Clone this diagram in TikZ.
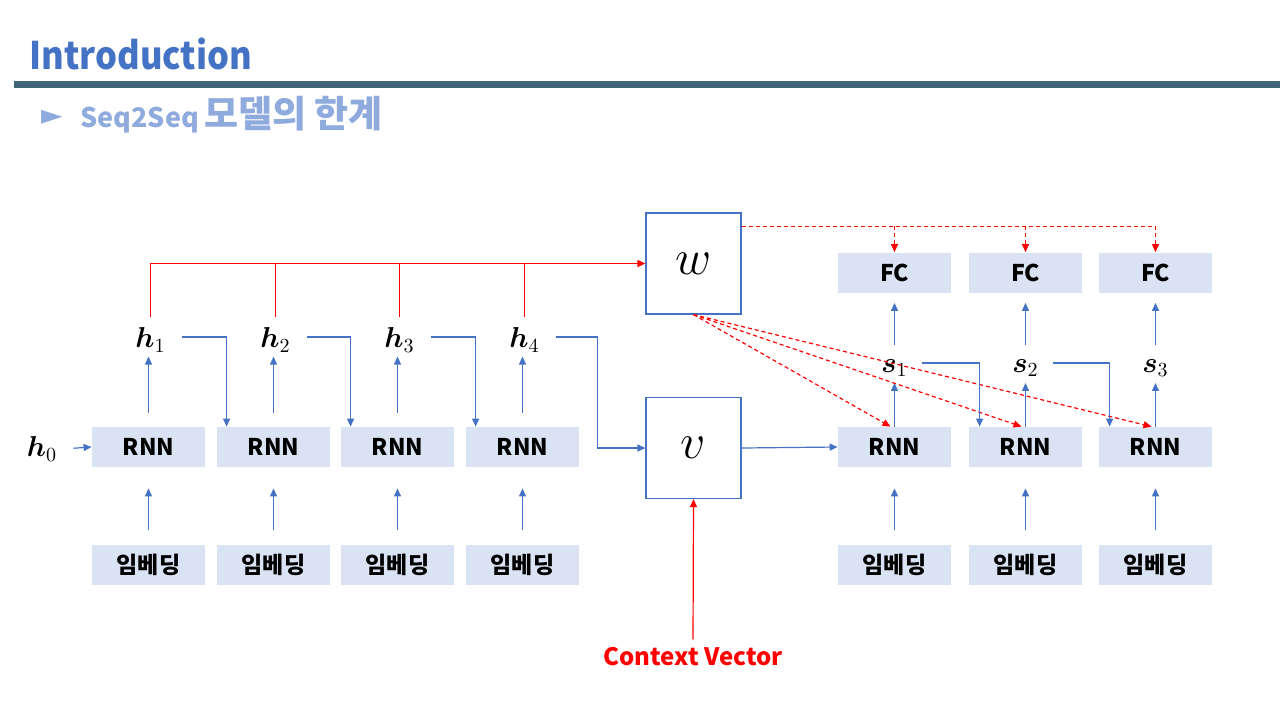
\documentclass[tikz,border=0pt]{standalone}
\usepackage[no-math]{fontspec}
\usepackage{amsmath,bm}
\setmainfont{Noto Sans CJK KR}
\newfontfamily\titlefont{Noto Sans CJK KR}[FakeStretch=0.91]
\newfontfamily\symfont{DejaVu Sans}
\usetikzlibrary{arrows.meta}
\definecolor{boxfill}{HTML}{DAE3F3}
\definecolor{lineblue}{HTML}{4472C4}
\definecolor{subblue}{HTML}{8FAADC}
\definecolor{rulecol}{HTML}{3F6576}
\tikzset{
  block/.style={fill=boxfill, minimum width=56.5pt, minimum height=20pt,
    inner sep=0pt, font=\fontsize{11.5}{12}\selectfont\bfseries},
  matbox/.style={draw=lineblue, line width=0.6pt, fill=white,
    minimum width=47.5pt, minimum height=50.5pt, inner sep=0pt,
    font=\fontsize{26}{28}\selectfont},
  hstate/.style={inner sep=2pt, font=\fontsize{14}{16}\selectfont},
  blu/.style={draw=lineblue, line width=0.6pt,
    -{Triangle[length=4pt,width=3.5pt]}},
  redline/.style={draw=red, line width=0.6pt},
  redarr/.style={redline, -{Triangle[length=4pt,width=3.5pt]}},
  reddash/.style={redline, dash pattern=on 2pt off 1.5pt}
}
\begin{document}
\begin{tikzpicture}[x=0.5pt,y=-0.5pt]
  \useasboundingbox (0,0) rectangle (1280,720);
  % title
  \node[anchor=base west, inner sep=0pt, text=lineblue,
    font=\titlefont\fontsize{19}{21}\selectfont\bfseries] (title) at (29,69.5) {Introduction};
  \fill[rulecol] (14,80.5) rectangle (1280,87.5);
  \node[inner sep=0pt, text=subblue, font=\symfont\fontsize{14}{16}\selectfont]
    (bullet) at (52,117) {►};
  \node[anchor=base west, inner sep=0pt, text=subblue,
    font=\fontsize{13.5}{19}\selectfont\bfseries] (subtitle) at (80,127)
    {Seq2Seq\hspace{2.5pt}{\fontsize{18.5}{20}\selectfont 모델의 한계}};

  % encoder
  \foreach \i/\x in {1/148.5,2/273.5,3/397.5,4/522.5}{
    \node[block] (r\i) at (\x,447) {RNN};
    \node[block] (e\i) at (\x,565) {임베딩};
    \node[hstate] (h\i) at (\x+2,340) {$\bm{h}_{\i}$};
    \draw[blu, shorten <=7.5pt, shorten >=10.5pt] (e\i.north) -- (r\i.south);
    \draw[blu, shorten <=7pt] (r\i.north) -- (r\i.north |- h\i.south);
  }
  \node[hstate] (h0) at (42,449) {$\bm{h}_{0}$};
  \draw[blu, shorten <=6pt] (h0.east) -- (r1.west);

  % W and v
  \node[matbox] (W) at (693.5,263.5) {$w$};
  \node[matbox] (v) at (693.5,448) {$v$};

  % h_i to next RNN
  \draw[blu] ([xshift=6pt,yshift=1.5pt]h1.east) -| ([xshift=5pt]r2.north west);
  \draw[blu] ([xshift=6pt,yshift=1.5pt]h2.east) -| ([xshift=5pt]r3.north west);
  \draw[blu] ([xshift=6pt,yshift=1.5pt]h3.east) -| ([xshift=5pt]r4.north west);
  \draw[blu] ([xshift=6pt,yshift=1.5pt]h4.east) -| ([xshift=-24pt]v.west) -- (v.west);

  % hidden states to W
  \draw[redarr, shorten <=3pt] (h1.north) |- (W.west);
  \foreach \i in {2,3,4}
    \draw[redline, shorten <=3pt] (h\i.north) -- (h\i.north |- W.west);

  % decoder
  \foreach \i/\x in {1/894.5,2/1025.5,3/1155.5}{
    \node[block] (d\i) at (\x,447) {RNN};
    \node[block] (g\i) at (\x,565) {임베딩};
    \node[block] (f\i) at (\x,272.5) {FC};
    \node[hstate] (s\i) at (\x,368) {$\bm{s}_{\i}$};
    \draw[blu, shorten <=7.5pt, shorten >=10.5pt] (g\i.north) -- (d\i.south);
    \draw[blu, shorten >=1pt] (d\i.north) -- (d\i.north |- s\i.south);
    \draw[blu, shorten <=5pt, shorten >=5pt] (s\i.north) -- (f\i.south);
    \draw[reddash, -{Triangle[length=4pt,width=3.5pt]}] (W.south) -- ([xshift=-2pt]d\i.north);
  }
  \draw[blu] ([xshift=5pt,yshift=2.5pt]s1.east) -| ([xshift=5.5pt]d2.north west);
  \draw[blu] ([xshift=5pt,yshift=2.5pt]s2.east) -| ([xshift=5.5pt]d3.north west);
  \draw[blu] (v.east) -- (d1.west);

  % W to FC
  \coordinate (t0) at ([yshift=-7pt]W.north east);
  \draw[reddash] (t0) -- (t0 -| f3.north);
  \foreach \i in {1,2,3}
    \draw[reddash, -{Triangle[length=4pt,width=3.5pt]}] (t0 -| f\i.north) -- (f\i.north);

  % context vector
  \node[text=red, inner sep=2pt, font=\fontsize{12}{14}\selectfont\bfseries]
    (cv) at (693,657) {Context Vector};
  \draw[redarr, shorten <=2pt] (cv.north) -- (v.south);
\end{tikzpicture}
\end{document}
